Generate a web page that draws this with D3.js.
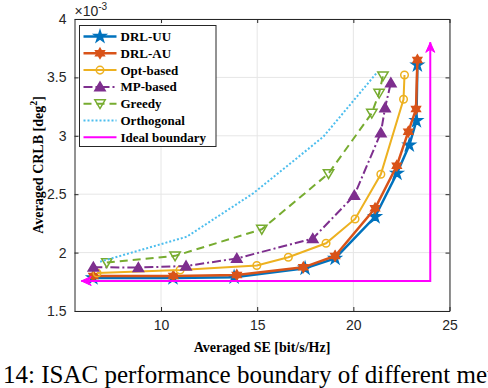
<!DOCTYPE html>
<html lang="en">
<head>
<meta charset="UTF-8">
<title>ISAC boundary</title>
<script src="https://d3js.org/d3.v7.min.js"></script>
<style>
    body { margin: 0; background: #fff; }
    .tick-label { font-family: 'Liberation Sans', Arial, sans-serif; font-size: 14px; fill: #262626; }
    .serif { font-family: 'Liberation Serif', 'Times New Roman', serif; }
</style>
</head>
<body>
<script>
    // SE [bit/s/Hz] and CRLB [x1e-3 deg^2]
    const seUU   = [6.46, 10.62, 13.8, 17.49, 19.05, 21.13, 22.27, 22.91, 23.28, 23.33];
    const crlbUU = [1.783, 1.783, 1.79, 1.866, 1.951, 2.307, 2.679, 2.921, 3.129, 3.606];
    const seAU   = [6.48, 10.64, 13.94, 17.40, 19.05, 21.13, 22.26, 22.86, 23.26, 23.33];
    const crlbAU = [1.80, 1.80, 1.808, 1.874, 1.971, 2.379, 2.744, 3.035, 3.229, 3.649];
    const seOpt   = [6.67, 10.99, 14.98, 16.62, 18.58, 20.09, 21.43, 22.61, 22.66];
    const crlbOpt = [1.825, 1.851, 1.890, 1.960, 2.080, 2.288, 2.671, 3.313, 3.521];
    const seMP   = [6.48, 8.82, 11.30, 13.94, 17.89, 20.05, 21.43, 21.65, 21.95];
    const crlbMP = [1.875, 1.872, 1.885, 1.950, 2.120, 2.490, 3.025, 3.240, 3.453];
    const seGreedy   = [7.18, 10.73, 15.24, 18.71, 20.96, 21.34, 21.54];
    const crlbGreedy = [1.915, 1.972, 2.200, 2.677, 3.194, 3.365, 3.513];
    const seOrth   = [6.83, 11.34, 14.80, 18.44, 21.22];
    const crlbOrth = [1.922, 2.136, 2.508, 2.992, 3.540];
    const seIdeal   = [5.85, 24.0, 24.0];
    const crlbIdeal = [1.757, 1.757, 3.8];

    const xTicks = [10, 15, 20, 25];
    const yTicks = [1.5, 2, 2.5, 3, 3.5, 4];
    const names = ['DRL-UU', 'DRL-AU', 'Opt-based', 'MP-based', 'Greedy', 'Orthogonal', 'Ideal boundary'];

    const width = 488, height = 388;
    const pLeft = 74.5, pRight = 449.5, pTop = 19, pBottom = 311;

    const x = d3.scaleLinear().domain([5.5, 25]).range([pLeft, pRight]);
    const y = d3.scaleLinear().domain([1.5, 4]).range([pBottom, pTop]);

    const svg = d3.select('body').append('svg')
        .attr('width', width).attr('height', height);

    // grid
    svg.append('g').selectAll('line').data(xTicks).enter().append('line')
        .attr('x1', d => x(d)).attr('x2', d => x(d)).attr('y1', pTop).attr('y2', pBottom)
        .style('stroke', '#e6e6e6');
    svg.append('g').selectAll('line').data(yTicks).enter().append('line')
        .attr('y1', d => y(d)).attr('y2', d => y(d)).attr('x1', pLeft).attr('x2', pRight)
        .style('stroke', '#e6e6e6');

    // axes (ticks inward on all four sides)
    const tl = 4;
    svg.append('g').attr('transform', 'translate(0,' + pBottom + ')')
        .call(d3.axisBottom(x).tickValues(xTicks).tickSizeInner(-tl).tickSizeOuter(0).tickPadding(9))
        .call(g => g.selectAll('text').attr('class', 'tick-label'));
    svg.append('g').attr('transform', 'translate(' + pLeft + ',0)')
        .call(d3.axisLeft(y).tickValues(yTicks).tickFormat(d3.format('')).tickSizeInner(-tl).tickSizeOuter(0).tickPadding(8))
        .call(g => g.selectAll('text').attr('class', 'tick-label'));
    svg.append('g').attr('transform', 'translate(0,' + pTop + ')')
        .call(d3.axisTop(x).tickValues(xTicks).tickFormat('').tickSizeInner(-tl).tickSizeOuter(0));
    svg.append('g').attr('transform', 'translate(' + pRight + ',0)')
        .call(d3.axisRight(y).tickValues(yTicks).tickFormat('').tickSizeInner(-tl).tickSizeOuter(0));
    svg.selectAll('.domain, .tick line').style('stroke', '#262626');
    svg.selectAll('.tick text').style('font-size', '14px');

    // exponent
    const ex = svg.append('text').attr('class', 'tick-label').attr('x', pLeft).attr('y', 16);
    ex.append('tspan').text('\u00d710');
    ex.append('tspan').attr('dy', -6).style('font-size', '10px').text('-3');

    // symbols
    const hexagram = {
        draw(ctx, size) {
            const r = Math.sqrt(size) * 0.75, ri = r * 0.58;
            for (let i = 0; i < 12; i++) {
                const a = -Math.PI / 2 + i * Math.PI / 6, rr = i % 2 ? ri : r;
                const px = rr * Math.cos(a), py = rr * Math.sin(a);
                i ? ctx.lineTo(px, py) : ctx.moveTo(px, py);
            }
            ctx.closePath();
        }
    };
    const triDown = {
        draw(ctx, size) {
            const s = Math.sqrt(size) * 0.62;
            ctx.moveTo(-s, -s * 0.75); ctx.lineTo(s, -s * 0.75); ctx.lineTo(0, s * 0.95); ctx.closePath();
        }
    };
    const triUp = {
        draw(ctx, size) {
            const s = Math.sqrt(size) * 0.62;
            ctx.moveTo(-s, s * 0.75); ctx.lineTo(s, s * 0.75); ctx.lineTo(0, -s * 0.95); ctx.closePath();
        }
    };

    const series = [
        {xs: seUU, ys: crlbUU, color: '#0072BD', w: 2.5, dash: null, sym: d3.symbolStar, size: 42, fill: true},
        {xs: seAU, ys: crlbAU, color: '#D95319', w: 2.5, dash: null, sym: hexagram, size: 45, fill: true},
        {xs: seOpt, ys: crlbOpt, color: '#EDB120', w: 2, dash: null, sym: d3.symbolCircle, size: 45, fill: false},
        {xs: seMP, ys: crlbMP, color: '#7E2F8E', w: 2, dash: '9,3,2,3', sym: triUp, size: 70, fill: true},
        {xs: seGreedy, ys: crlbGreedy, color: '#77AC30', w: 2, dash: '8,5', sym: triDown, size: 70, fill: false},
        {xs: seOrth, ys: crlbOrth, color: '#4DBEEE', w: 2, dash: '2,2', sym: null},
        {xs: seIdeal, ys: crlbIdeal, color: '#FF00FF', w: 2, dash: null, sym: null}
    ];

    const line = d3.line().x(d => x(d[0])).y(d => y(d[1]));

    series.forEach(s => {
        const pts = s.xs.map((v, i) => [v, s.ys[i]]);
        svg.append('path').datum(pts).attr('d', line)
            .style('fill', 'none').style('stroke', s.color).style('stroke-width', s.w)
            .style('stroke-dasharray', s.dash);
        if (s.sym) {
            svg.append('g').selectAll('path').data(pts).enter().append('path')
                .attr('transform', d => 'translate(' + x(d[0]) + ',' + y(d[1]) + ')')
                .attr('d', d3.symbol().type(s.sym).size(s.size))
                .style('fill', s.fill ? s.color : 'none')
                .style('stroke', s.color).style('stroke-width', 1.5);
        }
    });

    // arrow heads on ideal boundary ends
    const arrowHead = (px, py, ang) => {
        const L = 10, W = 4.5;
        const p = [[0, 0], [-L, -W], [-L * 0.7, 0], [-L, W]].map(([a, b]) =>
            [px + a * Math.cos(ang) - b * Math.sin(ang), py + a * Math.sin(ang) + b * Math.cos(ang)]);
        svg.append('path').attr('d', 'M' + p.join('L') + 'Z').style('fill', '#FF00FF').style('stroke', '#FF00FF');
    };
    arrowHead(x(seIdeal[0]), y(crlbIdeal[0]), Math.PI);
    arrowHead(x(seIdeal[2]), y(crlbIdeal[2]), -Math.PI / 2);

    // legend
    const lg = svg.append('g').attr('transform', 'translate(79.5,25.5)');
    lg.append('rect').attr('width', 136.5).attr('height', 121)
        .style('fill', '#fff').style('stroke', '#262626').style('stroke-width', 1);
    series.forEach((s, i) => {
        const ly = 11 + i * 16.8;
        lg.append('line').attr('x1', 4).attr('x2', 37).attr('y1', ly).attr('y2', ly)
            .style('stroke', s.color).style('stroke-width', s.w).style('stroke-dasharray', s.dash);
        if (s.sym) {
            lg.append('path').attr('transform', 'translate(20.5,' + ly + ')')
                .attr('d', d3.symbol().type(s.sym).size(s.size))
                .style('fill', s.fill ? s.color : 'none')
                .style('stroke', s.color).style('stroke-width', 1.5);
        }
        lg.append('text').attr('class', 'serif').attr('x', 41).attr('y', ly + 4.5)
            .style('font-size', '13px').style('font-weight', 'bold').text(names[i]);
    });

    // axis titles
    svg.append('text').attr('class', 'serif')
        .attr('x', (pLeft + pRight) / 2).attr('y', 352).attr('text-anchor', 'middle')
        .style('font-size', '14px').style('font-weight', 'bold').text('Averaged SE [bit/s/Hz]');
    const yl = svg.append('text').attr('class', 'serif')
        .attr('transform', 'translate(43,' + (pTop + pBottom) / 2 + ') rotate(-90)')
        .attr('text-anchor', 'middle').style('font-size', '14px').style('font-weight', 'bold');
    yl.append('tspan').text('Averaged CRLB [deg');
    yl.append('tspan').attr('dy', -6).style('font-size', '10px').text('2');
    yl.append('tspan').attr('dy', 6).text(']');

    // caption (cut at the page edges, as in the source page)
    svg.append('text').attr('class', 'serif').attr('x', 3).attr('y', 383)
        .style('font-size', '25px').text('14: ISAC performance boundary of different methods.');
</script>
</body>
</html>
